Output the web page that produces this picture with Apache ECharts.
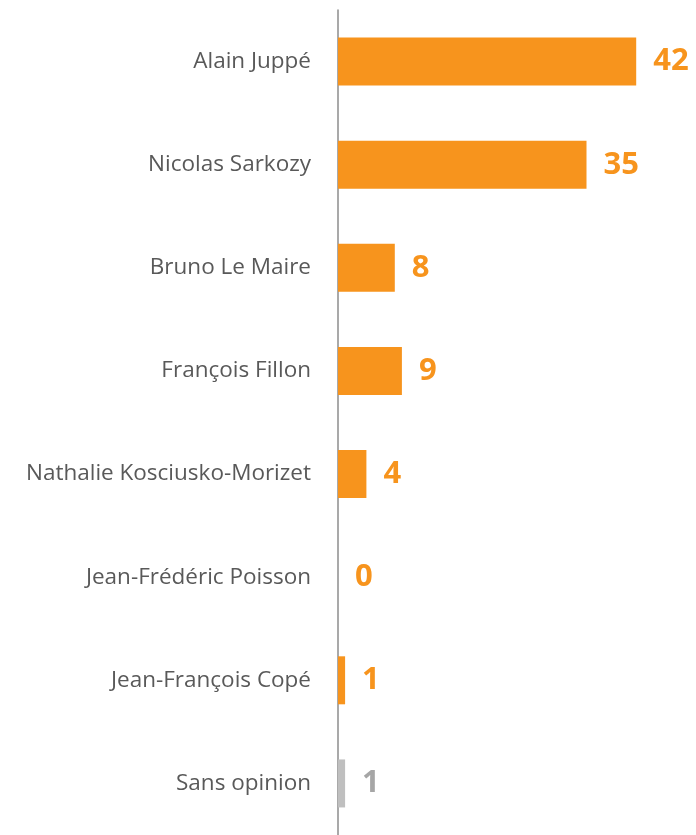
<!DOCTYPE html>
<html>
<head>
<meta charset="utf-8">
<script src="https://cdn.jsdelivr.net/npm/echarts@6/dist/echarts.min.js"></script>
<style>
  html, body { margin: 0; padding: 0; background: #fff; }
  #chart { width: 696px; height: 835px; }
</style>
</head>
<body>
<div id="chart"></div>
<script>
// données
const candidats = ['Alain Juppé', 'Nicolas Sarkozy', 'Bruno Le Maire', 'François Fillon',
  'Nathalie Kosciusko-Morizet', 'Jean-Frédéric Poisson', 'Jean-François Copé', 'Sans opinion'];
const scores = [42, 35, 8, 9, 4, 0, 1, 1];
const couleurs = ['#F7941D', '#F7941D', '#F7941D', '#F7941D', '#F7941D', '#F7941D', '#F7941D', '#BFBFBF'];
const couleursLabel = ['#F7941D', '#F7941D', '#F7941D', '#F7941D', '#F7941D', '#F7941D', '#F7941D', '#A6A6A6'];

const chart = echarts.init(document.getElementById('chart'));

const option = {
  animation: false,
  grid: { left: 338, right: 3, top: 10, bottom: 0 },
  xAxis: {
    type: 'value',
    min: 0,
    max: 50,
    show: false
  },
  yAxis: {
    type: 'category',
    inverse: true,
    data: candidats,
    axisLine: { show: true, lineStyle: { color: '#8C8C8C', width: 1.5 } },
    axisTick: { show: false },
    axisLabel: {
      margin: 27,
      fontFamily: 'Open Sans',
      fontSize: 22.5,
      color: '#595959'
    }
  },
  series: [
    {
      type: 'bar',
      barWidth: 48,
      data: scores.map((v, i) => ({
        value: v,
        itemStyle: { color: couleurs[i] },
        label: { color: couleursLabel[i] }
      })),
      label: {
        show: true,
        position: 'right',
        distance: 17,
        fontFamily: 'Open Sans',
        fontWeight: 'bold',
        fontSize: 31
      }
    }
  ]
};

chart.setOption(option);
</script>
</body>
</html>
